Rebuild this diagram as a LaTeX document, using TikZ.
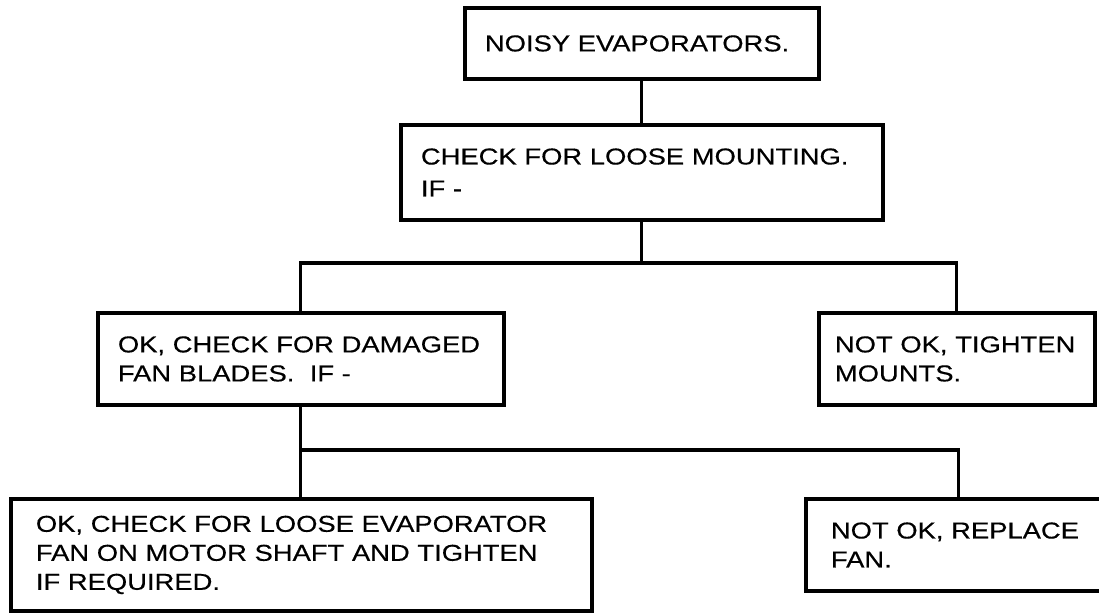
\documentclass[tikz,border=0pt]{standalone}
\usepackage{fontspec}
\setmainfont{Liberation Sans}[FakeStretch=1.19, FakeBold=0.4]

\begin{document}
\begin{tikzpicture}[x=0.75pt, y=-0.75pt,
    stepbox/.style={draw, line width=2.9pt, anchor=north west, align=left,
        inner xsep=15pt, inner ysep=0pt,
        font=\fontsize{17.25pt}{21.75pt}\selectfont},
    link/.style={line width=2.3pt}]

    \clip (0,0) rectangle (1099,612);

    % Problem
    \node[stepbox, text width=235.5pt, minimum height=53.25pt] (noisy) at (463,6) {NOISY EVAPORATORS.};

    % First check
    \node[stepbox, text width=331.5pt, minimum height=71.25pt,
        font=\fontsize{17.25pt}{24pt}\selectfont] (mount) at (399,123) {CHECK FOR LOOSE MOUNTING.\\IF -};

    % Mounting OK / not OK
    \node[stepbox, text width=274.5pt, minimum height=69pt] (blades) at (96,311) {OK, CHECK FOR DAMAGED\\FAN BLADES.\ \ IF -};
    \node[stepbox, inner xsep=12pt, text width=183pt, minimum height=69pt] (tighten) at (817,311) {NOT OK, TIGHTEN\\MOUNTS.};

    % Blades OK / not OK
    \node[stepbox, inner xsep=18.75pt, text width=398.25pt, minimum height=84pt] (shaft) at (9,497) {OK, CHECK FOR LOOSE EVAPORATOR\\FAN ON MOTOR SHAFT AND TIGHTEN\\IF REQUIRED.};
    \node[stepbox, inner xsep=18.75pt, text width=192pt, minimum height=69pt] (replace) at (804,497) {NOT OK, REPLACE\\FAN.};

    % Connectors
    \coordinate (forkA) at (640,263);
    \coordinate (forkB) at (299,450);
    \draw[link] (noisy.south) -- (noisy.south |- mount.north);
    \draw[link] (mount.south) -- (mount.south |- forkA);
    \draw[link] (blades.north) |- (forkA) -| (tighten.north);
    \draw[link] (blades.south) -- (blades.south |- shaft.north);
    \draw[link] (forkB) -| (replace.north);

\end{tikzpicture}
\end{document}
